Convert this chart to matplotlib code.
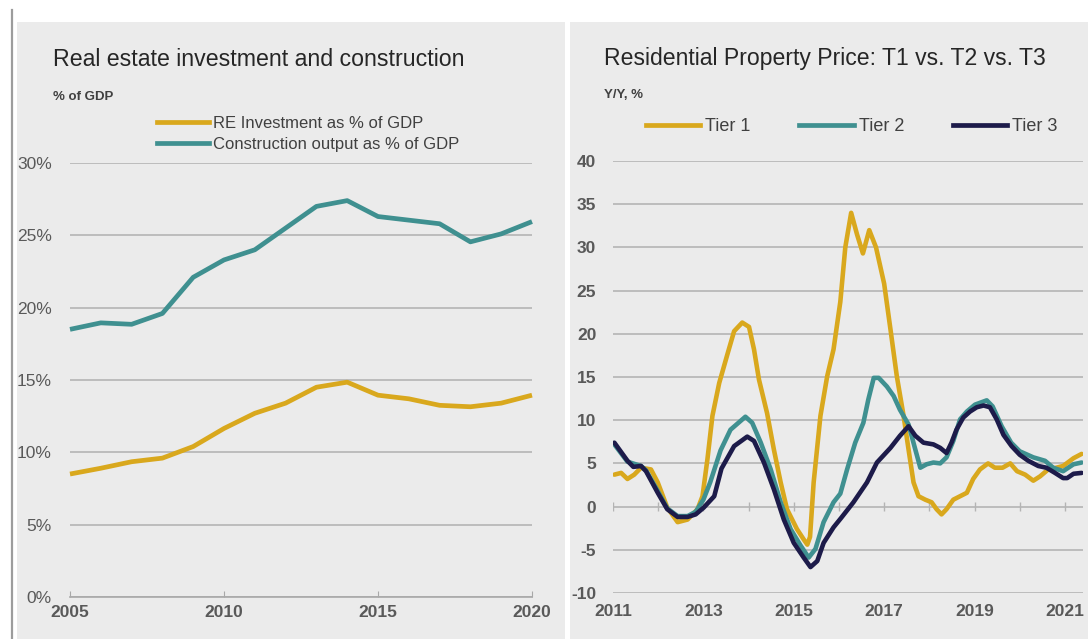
import matplotlib.pyplot as plt
from matplotlib.patches import Rectangle
from matplotlib.lines import Line2D
from matplotlib.ticker import FuncFormatter

plt.rcParams['font.family'] = ['Liberation Sans', 'DejaVu Sans']
plt.rcParams['axes.unicode_minus'] = False

# ---- left panel: annual shares of GDP (%)
years = list(range(2005, 2021))
re_investment = [8.5, 8.9, 9.35, 9.6, 10.4, 11.65, 12.7, 13.4, 14.5, 14.85,
                 13.95, 13.7, 13.25, 13.15, 13.4, 13.95]
construction = [18.5, 18.95, 18.85, 19.6, 22.1, 23.3, 24.0, 25.5, 27.0, 27.4,
                26.3, 26.05, 25.8, 24.55, 25.1, 25.95]

# ---- right panel: residential price growth y/y (%), decimal-year dates
tier1_t = [2011.03, 2011.18, 2011.32, 2011.47, 2011.62, 2011.84, 2011.99, 2012.2,
           2012.43, 2012.65, 2012.87, 2012.98, 2013.09, 2013.2, 2013.35, 2013.53,
           2013.68, 2013.86, 2014.01, 2014.12, 2014.23, 2014.41, 2014.56, 2014.71,
           2014.85, 2015.07, 2015.22, 2015.3, 2015.36, 2015.44, 2015.59, 2015.74,
           2015.88, 2016.03, 2016.14, 2016.27, 2016.4, 2016.53, 2016.67, 2016.82,
           2017.0, 2017.14, 2017.28, 2017.43, 2017.54, 2017.65, 2017.76, 2017.91,
           2018.05, 2018.16, 2018.27, 2018.38, 2018.53, 2018.68, 2018.83, 2018.97,
           2019.12, 2019.3, 2019.45, 2019.62, 2019.79, 2019.94, 2020.12, 2020.3,
           2020.45, 2020.63, 2020.81, 2020.96, 2021.19, 2021.37]
tier1_v = [3.7, 3.9, 3.2, 3.7, 4.5, 4.3, 2.8, -0.1,
           -1.8, -1.5, -0.3, 1.2, 5.5, 10.5, 14.3, 17.6,
           20.3, 21.3, 20.8, 18.2, 14.7, 10.8, 6.6, 2.8,
           -0.3, -2.6, -3.8, -4.4, -3.5, 2.8, 10.5, 15.1,
           18.2, 23.7, 30.0, 34.0, 31.5, 29.3, 32.0, 30.0,
           25.8, 20.5, 15.1, 10.5, 6.6, 2.8, 1.2, 0.8,
           0.5, -0.3, -0.9, -0.3, 0.8, 1.2, 1.6, 3.2,
           4.3, 5.0, 4.5, 4.5, 5.0, 4.1, 3.7, 3.0,
           3.5, 4.3, 4.5, 4.7, 5.6, 6.1]

tier2_t = [2011.03, 2011.32, 2011.62, 2011.73, 2011.99, 2012.2, 2012.43, 2012.65,
           2012.83, 2013.0, 2013.15, 2013.38, 2013.6, 2013.93, 2014.08, 2014.27,
           2014.49, 2014.71, 2014.93, 2015.15, 2015.33, 2015.48, 2015.66, 2015.88,
           2016.03, 2016.18, 2016.36, 2016.54, 2016.65, 2016.77, 2016.88, 2017.06,
           2017.21, 2017.35, 2017.54, 2017.69, 2017.8, 2017.94, 2018.09, 2018.24,
           2018.38, 2018.53, 2018.68, 2018.83, 2019.01, 2019.27, 2019.4, 2019.6,
           2019.81, 2020.0, 2020.3, 2020.56, 2020.74, 2020.96, 2021.19, 2021.37]
tier2_v = [7.2, 5.2, 4.7, 4.2, 1.8, -0.2, -1.1, -1.1,
           -0.6, 0.8, 2.8, 6.5, 8.9, 10.4, 9.7, 7.4,
           4.3, 0.5, -2.6, -4.5, -5.9, -4.9, -1.8, 0.5,
           1.5, 4.3, 7.4, 9.7, 12.4, 14.9, 14.9, 13.9,
           12.8, 11.2, 9.5, 6.6, 4.5, 4.9, 5.1, 5.0,
           5.7, 7.6, 10.1, 11.0, 11.8, 12.3, 11.6, 9.3,
           7.4, 6.4, 5.7, 5.3, 4.5, 4.1, 4.9, 5.1]

tier3_t = [2011.03, 2011.32, 2011.45, 2011.62, 2011.73, 2011.99, 2012.2, 2012.43,
           2012.65, 2012.83, 2013.01, 2013.24, 2013.4, 2013.68, 2013.97, 2014.12,
           2014.34, 2014.56, 2014.78, 2015.0, 2015.22, 2015.37, 2015.52, 2015.66,
           2015.88, 2016.05, 2016.32, 2016.62, 2016.84, 2017.14, 2017.35, 2017.54,
           2017.69, 2017.87, 2018.09, 2018.24, 2018.38, 2018.49, 2018.6, 2018.75,
           2018.9, 2019.05, 2019.2, 2019.34, 2019.49, 2019.64, 2019.82, 2020.0,
           2020.19, 2020.41, 2020.59, 2020.78, 2020.96, 2021.05, 2021.19, 2021.37]
tier3_v = [7.4, 5.3, 4.6, 4.7, 4.1, 1.6, -0.3, -1.2,
           -1.2, -0.9, -0.1, 1.2, 4.4, 7.0, 8.1, 7.6,
           5.1, 2.0, -1.5, -4.2, -5.9, -7.0, -6.3, -4.2,
           -2.4, -1.3, 0.5, 2.8, 5.1, 6.8, 8.2, 9.3,
           8.2, 7.4, 7.2, 6.8, 6.2, 7.4, 8.9, 10.3,
           11.0, 11.5, 11.7, 11.5, 10.1, 8.3, 7.0, 6.0,
           5.3, 4.7, 4.5, 3.9, 3.3, 3.3, 3.8, 3.9]

GOLD = '#d9a81d'
TEAL = '#3f9090'
NAVY = '#1d1b4a'
PANEL = '#ebebeb'
GRID = '#b4b4b4'
TICK = '#595959'

W, H = 1088, 639


def fx(x):
    return x / W


def fy(y):
    return 1 - y / H


fig = plt.figure(figsize=(W / 100, H / 100), dpi=100)
fig.patch.set_facecolor('white')

# panel backgrounds and the thin rule at far left
fig.add_artist(Rectangle((fx(17), 0), fx(565) - fx(17), fy(22), transform=fig.transFigure,
                         facecolor=PANEL, edgecolor='none', zorder=-5))
fig.add_artist(Rectangle((fx(570), 0), 1 - fx(570), fy(22), transform=fig.transFigure,
                         facecolor=PANEL, edgecolor='none', zorder=-5))
fig.add_artist(Line2D([fx(12), fx(12)], [0, fy(10)], transform=fig.transFigure,
                      color='#9c9c9c', lw=1.6))

# ---------------- left chart
ax1 = fig.add_axes([fx(70), fy(597), fx(532) - fx(70), fy(163) - fy(597)])
ax1.set_facecolor('none')
ax1.plot(years, re_investment, color=GOLD, lw=3.4, solid_joinstyle='round',
         solid_capstyle='butt', clip_on=False, zorder=3)
ax1.plot(years, construction, color=TEAL, lw=3.4, solid_joinstyle='round',
         solid_capstyle='butt', clip_on=False, zorder=3)
ax1.set_xlim(2005, 2020)
ax1.set_ylim(0, 30)
ax1.set_yticks(range(0, 31, 5))
ax1.yaxis.set_major_formatter(FuncFormatter(lambda v, p: f'{v:.0f}%'))
ax1.set_xticks([2005, 2010, 2015, 2020])
ax1.grid(axis='y', color=GRID, lw=1.2)
ax1.set_axisbelow(True)
for side in ['top', 'right', 'left']:
    ax1.spines[side].set_visible(False)
ax1.spines['bottom'].set_color('#a8a8a8')
ax1.spines['bottom'].set_linewidth(1.2)
ax1.tick_params(axis='y', length=0, pad=13, labelsize=12.5, labelcolor=TICK)
ax1.tick_params(axis='x', direction='in', length=4, color='#a8a8a8', pad=6,
                labelsize=12.5, labelcolor=TICK)
for lab in ax1.get_xticklabels():
    lab.set_fontweight('bold')

fig.text(fx(53), fy(60), 'Real estate investment and construction', fontsize=16.7,
         color='#262626', va='center', ha='left')
fig.text(fx(53), fy(97), '% of GDP', fontsize=9.5, fontweight='bold',
         color='#404040', va='center', ha='left')
fig.legend(handles=[Line2D([], [], color=GOLD, lw=3.4), Line2D([], [], color=TEAL, lw=3.4)],
           labels=['RE Investment as % of GDP', 'Construction output as % of GDP'],
           loc='upper left', bbox_to_anchor=(fx(157), fy(116)), frameon=False,
           fontsize=12, labelcolor='#404040', handlelength=3.1, handletextpad=0.25,
           labelspacing=0.35, borderpad=0, borderaxespad=0)

# ---------------- right chart
ax2 = fig.add_axes([fx(613), fy(593), fx(1083) - fx(613), fy(161) - fy(593)])
ax2.set_facecolor('none')
for t, v, c in [(tier1_t, tier1_v, GOLD), (tier2_t, tier2_v, TEAL), (tier3_t, tier3_v, NAVY)]:
    ax2.plot(t, v, color=c, lw=3.3, solid_joinstyle='round', solid_capstyle='round', zorder=3)
ax2.set_xlim(2011, 2021.4)
ax2.set_ylim(-10, 40)
ax2.set_yticks(range(-10, 41, 5))
ax2.set_xticks(range(2011, 2022, 2))
ax2.grid(axis='y', color=GRID, lw=1.2)
ax2.set_axisbelow(True)
for side in ax2.spines:
    ax2.spines[side].set_visible(False)
# yearly tick marks sitting on the zero line
ax2.vlines(range(2011, 2022), -0.5, 0.5, color=GRID, lw=1.0, zorder=1)
ax2.tick_params(axis='y', length=0, pad=12, labelsize=12.5, labelcolor=TICK)
ax2.tick_params(axis='x', length=0, pad=8, labelsize=12.5, labelcolor=TICK)
for lab in ax2.get_xticklabels() + ax2.get_yticklabels():
    lab.set_fontweight('bold')

fig.text(fx(604), fy(58), 'Residential Property Price: T1 vs. T2 vs. T3', fontsize=16.6,
         color='#262626', va='center', ha='left')
fig.text(fx(604), fy(95), 'Y/Y, %', fontsize=9.5, fontweight='bold',
         color='#404040', va='center', ha='left')
fig.legend(handles=[Line2D([], [], color=c, lw=3.4) for c in (GOLD, TEAL, NAVY)],
           labels=['Tier 1', 'Tier 2', 'Tier 3'], ncol=3,
           loc='upper left', bbox_to_anchor=(fx(646), fy(118)), frameon=False,
           fontsize=13, labelcolor='#404040', handlelength=3.0, handletextpad=0.28,
           columnspacing=2.7, borderpad=0, borderaxespad=0)

fig.savefig('out.png', dpi=100)
